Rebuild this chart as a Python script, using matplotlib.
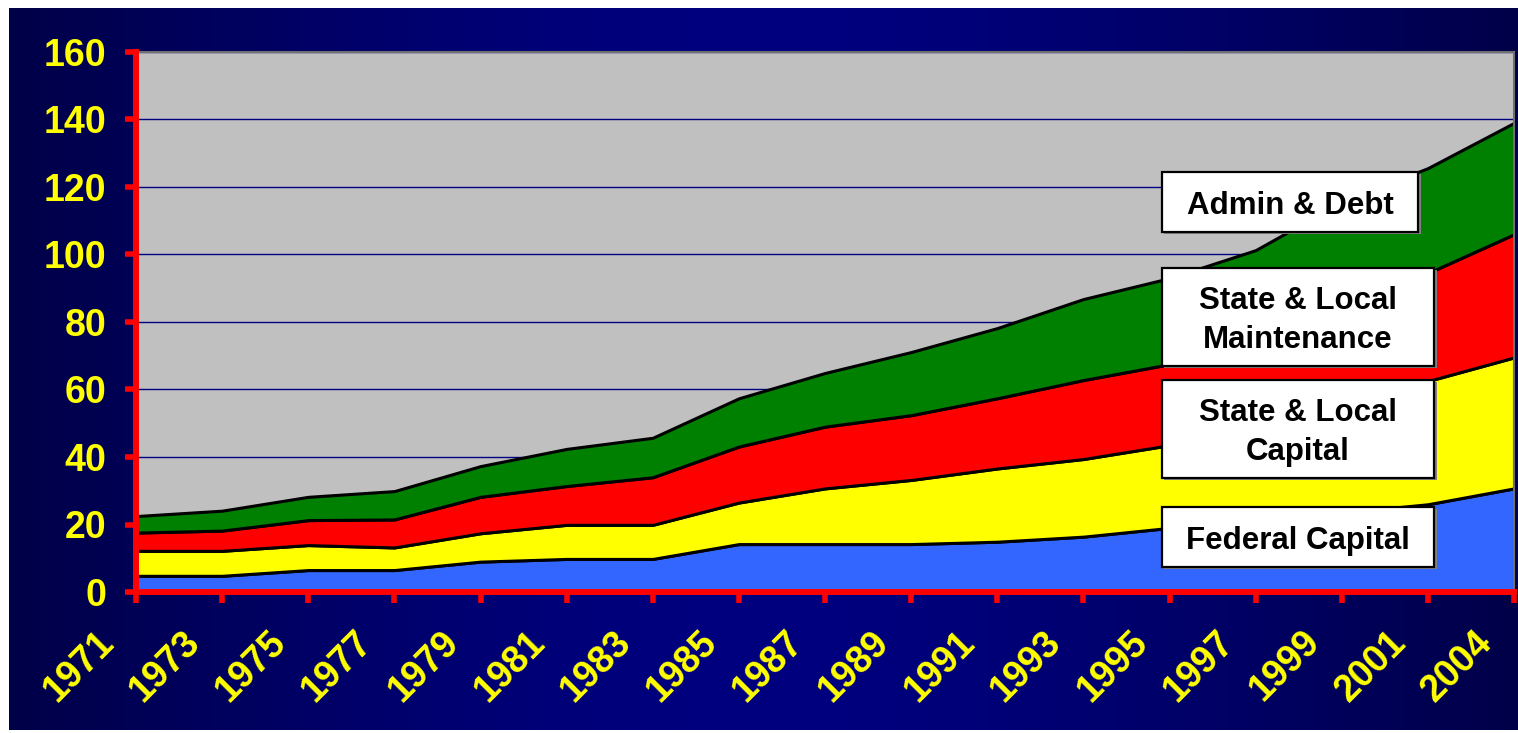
import numpy as np
import matplotlib
matplotlib.use("Agg")
import matplotlib.pyplot as plt
from matplotlib.patches import Rectangle
from matplotlib.transforms import ScaledTranslation

plt.rcParams["font.family"] = ["Liberation Sans", "DejaVu Sans"]

years = ["1971", "1973", "1975", "1977", "1979", "1981", "1983", "1985", "1987",
         "1989", "1991", "1993", "1995", "1997", "1999", "2001", "2004"]

federal_capital = [4.8, 4.8, 6.5, 6.5, 9.0, 9.8, 9.8, 14.2, 14.2,
                   14.2, 14.9, 16.4, 19.0, 21.0, 23.5, 26.0, 30.7]
state_local_capital = [7.4, 7.4, 7.4, 6.7, 8.4, 10.1, 10.1, 12.3, 16.5,
                       19.0, 21.7, 23.0, 24.5, 28.0, 32.5, 36.5, 38.8]
state_local_maint = [5.4, 6.0, 7.4, 8.3, 10.8, 11.5, 14.1, 16.6, 18.3,
                     19.2, 20.8, 23.4, 24.0, 27.0, 29.0, 32.0, 36.5]
admin_debt = [4.9, 5.9, 6.9, 8.4, 9.1, 11.0, 11.7, 14.3, 15.9,
              18.7, 20.8, 24.0, 25.5, 25.3, 30.6, 31.1, 33.0]

series_labels = ["Federal Capital", "State & Local\nCapital",
                 "State & Local\nMaintenance", "Admin & Debt"]
series_colors = ["#3366FF", "#FFFF00", "#FF0000", "#008000"]
y_ticks = [0, 20, 40, 60, 80, 100, 120, 140, 160]

W, H = 1518, 733
fig = plt.figure(figsize=(W / 100, H / 100), dpi=100, facecolor="white")

# dark navy backdrop, brighter in the middle
bg = fig.add_axes([9 / W, 3 / H, 1 - 9 / W, (H - 11) / H])
t = np.linspace(-1, 1, 400)
shade = 1 - np.abs(t) ** 1.5
grad = np.zeros((2, 400, 3))
grad[..., 2] = (0x48 + (0x80 - 0x48) * shade) / 255
bg.imshow(grad, aspect="auto", extent=[0, 1, 0, 1])
bg.set_axis_off()
bg.set_zorder(-5)

ax = fig.add_axes([136 / W, 141 / H, 1378 / W, 540 / H])
ax.set_facecolor("#C0C0C0")
x = np.arange(len(years))
ax.stackplot(x, federal_capital, state_local_capital, state_local_maint, admin_debt,
             colors=series_colors, edgecolor="black", linewidth=2.2)
ax.set_xlim(0, len(years) - 1)
ax.set_ylim(0, 160)
ax.set_axisbelow(True)
ax.yaxis.grid(True, color="#000080", linewidth=1)

for side in ["left", "bottom"]:
    ax.spines[side].set_color("#FF0000")
    ax.spines[side].set_linewidth(4.3)
    ax.spines[side].set_zorder(6)
for side in ["top", "right"]:
    ax.spines[side].set_color("#707070")
    ax.spines[side].set_linewidth(1.5)

ax.set_yticks(y_ticks)
ax.tick_params(axis="y", colors="#FF0000", length=8, width=4, pad=13.5,
               labelcolor="#FFFF00", labelsize=27)
for lab in ax.get_yticklabels():
    lab.set_fontweight("bold")
ax.set_xticks(x)
ax.set_xticklabels([])
ax.tick_params(axis="x", colors="#FF0000", length=8, width=4)

offset = ScaledTranslation(-0.57, -0.74, fig.dpi_scale_trans)
for i, yr in enumerate(years):
    ax.text(i, 0, yr, transform=ax.get_xaxis_transform() + offset,
            rotation=45, rotation_mode="anchor", ha="center", va="center",
            color="#FFFF00", fontsize=27, fontweight="bold", clip_on=False)

# label boxes (axes fraction)
boxes = [
    (0.7443, 0.0457, 0.9419, 0.1569),
    (0.7443, 0.2117, 0.9419, 0.3926),
    (0.7443, 0.4191, 0.9419, 0.6006),
    (0.7443, 0.6672, 0.9306, 0.7783),
]
text_shift = ScaledTranslation(0, -0.04, fig.dpi_scale_trans)
for (x0, y0, x1, y1), text in zip(boxes, series_labels):
    ax.add_patch(Rectangle((x0 + 0.002, y0 - 0.004), x1 - x0, y1 - y0,
                           transform=ax.transAxes, facecolor="#808080",
                           edgecolor="none", zorder=4))
    ax.add_patch(Rectangle((x0, y0), x1 - x0, y1 - y0, transform=ax.transAxes,
                           facecolor="white", edgecolor="black", linewidth=1.6,
                           zorder=5))
    ax.text((x0 + x1) / 2, (y0 + y1) / 2, text,
            transform=ax.transAxes + text_shift,
            ha="center", va="center", fontsize=22.5, fontweight="bold",
            color="black", linespacing=1.38, zorder=6)

fig.savefig("out.png", dpi=100, facecolor="white")
